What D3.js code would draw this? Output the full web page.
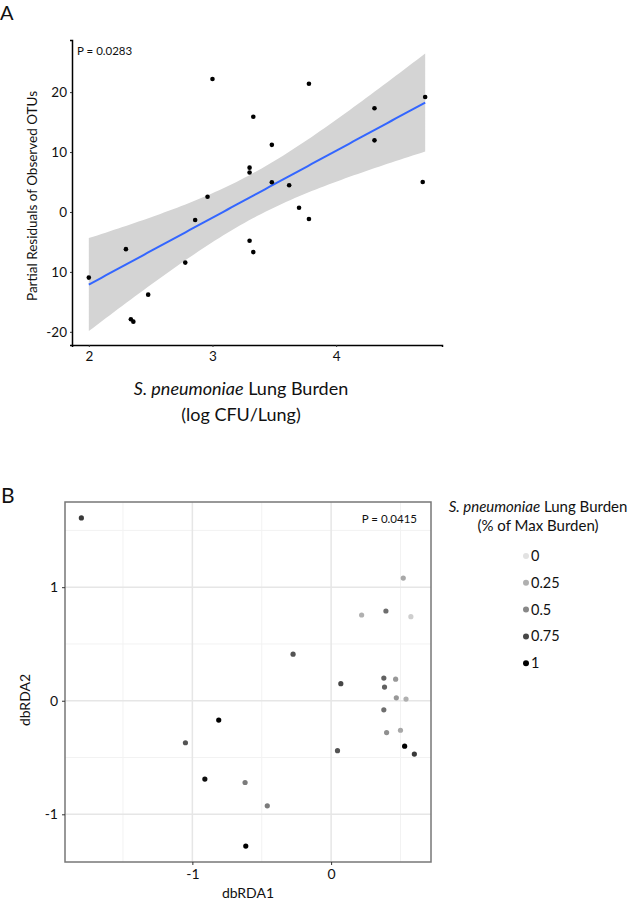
<!DOCTYPE html>
<html lang="en">
<head>
<meta charset="UTF-8">
<title>Lung burden and microbiota</title>
<script src="https://d3js.org/d3.v7.min.js"></script>
<style>
  body { margin: 0; background: #fff; }
  text { font-family: Lato, "Open Sans", sans-serif; fill: #111; }
</style>
</head>
<body>
<div id="chart"></div>
<script>
// ---- panel A data: lung burden (log CFU) vs partial residuals
const burdenLog = [3.00, 3.78, 3.33, 3.48, 3.30, 3.30, 3.48, 3.62, 2.96, 4.72, 4.31, 4.31,
                   4.70, 2.86, 2.78, 2.30, 2.00, 2.48, 2.34, 2.36, 3.30, 3.33, 3.70, 3.78];
const residuals = [22.2, 21.4, 15.9, 11.2, 7.4, 6.6, 4.95, 4.45, 2.55, 19.2, 17.3, 11.95,
                   5.0, -1.33, -8.45, -6.2, -10.95, -13.8, -17.9, -18.3, -4.8, -6.7, 0.7, -1.17];
const aTicksX = [2, 3, 4];
const aTicksY = [-20, -10, 0, 10, 20];
const aTickLabelsY = ["-20", "10", "0", "10", "20"];   // as printed in the figure
const pValueA = "P = 0.0283";

// ---- panel B data: dbRDA ordination
const dbRDA1 = [-1.80, -0.274, -0.81, -1.05, -0.91, -0.62, -0.46, -0.615, 0.07, 0.38, 0.465, 0.385,
                0.47, 0.54, 0.38, 0.40, 0.50, 0.046, 0.53, 0.60, 0.52, 0.22, 0.395, 0.575];
const dbRDA2 = [1.61, 0.41, -0.17, -0.37, -0.69, -0.72, -0.925, -1.28, 0.15, 0.20, 0.19, 0.12,
                0.026, 0.015, -0.08, -0.28, -0.26, -0.44, -0.40, -0.47, 1.08, 0.755, 0.79, 0.74];
const burdenPct = [0.8, 0.7, 1.0, 0.7, 0.95, 0.55, 0.55, 1.0, 0.75, 0.65, 0.4, 0.65,
                   0.4, 0.25, 0.6, 0.45, 0.3, 0.7, 1.0, 0.8, 0.3, 0.25, 0.6, 0.1];
const bTicksX = [-1, 0];
const bTicksY = [-1, 0, 1];
const bMinorX = [-1.5, -0.5, 0.5];
const bMinorY = [-0.5, 0.5, 1.5];
const legendLevels = [0, 0.25, 0.5, 0.75, 1];
const pValueB = "P = 0.0415";

const W = 634, H = 900;
const svg = d3.select("#chart").append("svg")
    .attr("width", W).attr("height", H);

// ================= Panel A =================
const ax = d3.scaleLinear().domain([1.864, 4.856]).range([72, 442]);
const ay = d3.scaleLinear().domain([-22.2, 28.7]).range([345, 40]);

svg.append("text").attr("x", 0).attr("y", 20).style("font-size", "20px").text("A");

// linear fit + 95% confidence band
const pts = burdenLog.map((x, i) => ({x: x, y: residuals[i]}));
const n = pts.length;
const mx = d3.mean(pts, d => d.x), my = d3.mean(pts, d => d.y);
const sxx = d3.sum(pts, d => (d.x - mx) ** 2);
const sxy = d3.sum(pts, d => (d.x - mx) * (d.y - my));
const slope = sxy / sxx, icpt = my - slope * mx;
const sse = d3.sum(pts, d => (d.y - icpt - slope * d.x) ** 2);
const se = Math.sqrt(sse / (n - 2));
const tcrit = 2.074; // t(0.975, 22)
const xmin = d3.min(burdenLog), xmax = d3.max(burdenLog);
const band = d3.range(0, 81).map(i => {
    const x = xmin + (xmax - xmin) * i / 80;
    const fit = icpt + slope * x;
    const hw = tcrit * se * Math.sqrt(1 / n + (x - mx) ** 2 / sxx);
    return {x: x, fit: fit, lo: fit - hw, hi: fit + hw};
});

svg.append("path").datum(band)
    .attr("fill", "#d4d4d4")
    .attr("d", d3.area().x(d => ax(d.x)).y0(d => ay(d.lo)).y1(d => ay(d.hi)));
svg.append("path").datum(band)
    .attr("fill", "none").attr("stroke", "#3366ff").attr("stroke-width", 2)
    .attr("d", d3.line().x(d => ax(d.x)).y(d => ay(d.fit)));

svg.append("g").selectAll("circle").data(pts).join("circle")
    .attr("cx", d => ax(d.x)).attr("cy", d => ay(d.y))
    .attr("r", 2.3).attr("fill", "#000");

const axA = svg.append("g").attr("transform", "translate(0,345)")
    .call(d3.axisBottom(ax).tickValues(aTicksX).tickSize(2).tickPadding(4)
        .tickFormat(d3.format("d")));
const ayA = svg.append("g").attr("transform", "translate(72,0)")
    .call(d3.axisLeft(ay).tickValues(aTicksY).tickSize(2).tickPadding(3)
        .tickFormat((d, i) => aTickLabelsY[i]));
[axA, ayA].forEach(g => {
    g.select(".domain").attr("stroke", "#000").attr("stroke-width", 1.5);
    g.selectAll(".tick line").attr("stroke", "#333");
    g.selectAll(".tick text").style("font-size", "13.5px").attr("fill", "#111")
        .style("font-family", "Lato, sans-serif");
});

svg.append("text").attr("x", 77).attr("y", 55).style("font-size", "11.5px").text(pValueA);

const xtA = svg.append("text").attr("x", 241).attr("y", 395)
    .attr("text-anchor", "middle").style("font-size", "18px");
xtA.append("tspan").style("font-style", "italic").text("S. pneumoniae");
xtA.append("tspan").text(" Lung Burden");
svg.append("text").attr("x", 241).attr("y", 421)
    .attr("text-anchor", "middle").style("font-size", "18px").text("(log CFU/Lung)");

svg.append("text").attr("transform", "translate(37,196) rotate(-90)")
    .attr("text-anchor", "middle").style("font-size", "13.5px")
    .text("Partial Residuals of Observed OTUs");

// ================= Panel B =================
const bx = d3.scaleLinear().domain([-1.918, 0.72]).range([65, 431]);
const by = d3.scaleLinear().domain([-1.42, 1.75]).range([862, 502]);
const grey = d3.scaleLinear().domain(legendLevels)
    .range(["#e2e2e2", "#b0b0b0", "#888888", "#474747", "#000000"]);

svg.append("text").attr("x", 1).attr("y", 503).style("font-size", "21px").text("B");

const grid = svg.append("g");
grid.selectAll("line.mx").data(bMinorX).join("line")
    .attr("x1", d => bx(d)).attr("x2", d => bx(d)).attr("y1", 502).attr("y2", 862)
    .attr("stroke", "#f2f2f2").attr("stroke-width", 1);
grid.selectAll("line.my").data(bMinorY).join("line")
    .attr("y1", d => by(d)).attr("y2", d => by(d)).attr("x1", 65).attr("x2", 431)
    .attr("stroke", "#f2f2f2").attr("stroke-width", 1);
grid.selectAll("line.gx").data(bTicksX).join("line")
    .attr("x1", d => bx(d)).attr("x2", d => bx(d)).attr("y1", 502).attr("y2", 862)
    .attr("stroke", "#e6e6e6").attr("stroke-width", 1.5);
grid.selectAll("line.gy").data(bTicksY).join("line")
    .attr("y1", d => by(d)).attr("y2", d => by(d)).attr("x1", 65).attr("x2", 431)
    .attr("stroke", "#e6e6e6").attr("stroke-width", 1.5);

svg.append("rect").attr("x", 65).attr("y", 502).attr("width", 366).attr("height", 360)
    .attr("fill", "none").attr("stroke", "#777").attr("stroke-width", 1.5);

const ordPts = dbRDA1.map((x, i) => ({x: x, y: dbRDA2[i], v: burdenPct[i]}));
svg.append("g").selectAll("circle").data(ordPts).join("circle")
    .attr("cx", d => bx(d.x)).attr("cy", d => by(d.y))
    .attr("r", 2.6).attr("fill", d => grey(d.v));

const bxA = svg.append("g").attr("transform", "translate(0,862)")
    .call(d3.axisBottom(bx).tickValues(bTicksX).tickSize(3).tickPadding(4).tickFormat(d3.format("d")));
const byA = svg.append("g").attr("transform", "translate(65,0)")
    .call(d3.axisLeft(by).tickValues(bTicksY).tickSize(3).tickPadding(4).tickFormat(d3.format("d")));
[bxA, byA].forEach(g => {
    g.select(".domain").remove();
    g.selectAll(".tick line").attr("stroke", "#333");
    g.selectAll(".tick text").style("font-size", "14px").attr("fill", "#111")
        .style("font-family", "Lato, sans-serif");
});
// use a plain hyphen like the figure
bxA.selectAll(".tick text").text(d => String(d).replace("\u2212", "-"));
byA.selectAll(".tick text").text(d => String(d).replace("\u2212", "-"));

svg.append("text").attr("x", 417).attr("y", 523).attr("text-anchor", "end")
    .style("font-size", "11.5px").text(pValueB);

svg.append("text").attr("x", 248).attr("y", 898).attr("text-anchor", "middle")
    .style("font-size", "14px").text("dbRDA1");
svg.append("text").attr("transform", "translate(30,700) rotate(-90)")
    .attr("text-anchor", "middle").style("font-size", "14px").text("dbRDA2");

// legend
const lt = svg.append("text").attr("x", 538).attr("y", 512)
    .attr("text-anchor", "middle").style("font-size", "15px");
lt.append("tspan").style("font-style", "italic").text("S. pneumoniae");
lt.append("tspan").text(" Lung Burden");
svg.append("text").attr("x", 538).attr("y", 531)
    .attr("text-anchor", "middle").style("font-size", "15px").text("(% of Max Burden)");

const leg = svg.append("g").selectAll("g").data(legendLevels).join("g")
    .attr("transform", (d, i) => `translate(526,${556 + i * 26.8})`);
leg.append("circle").attr("r", 3).attr("fill", d => grey(d));
leg.append("text").attr("x", 5).attr("y", 5).style("font-size", "14.5px").text(d => d);
</script>
</body>
</html>
